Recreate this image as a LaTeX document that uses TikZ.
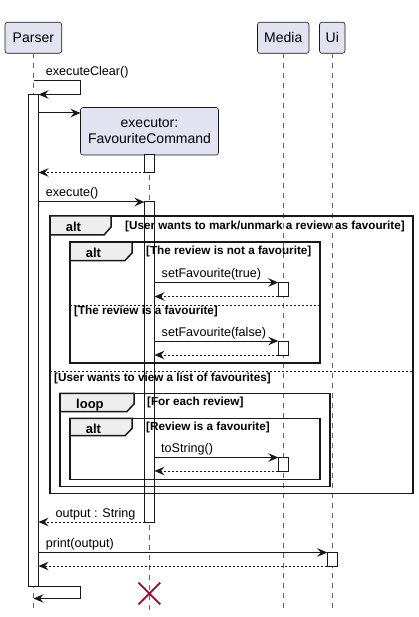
\documentclass[tikz,border=0pt]{standalone}
\usepackage{fontspec}
\setmainfont{Liberation Sans}
\usetikzlibrary{arrows.meta,shapes.misc}
\definecolor{partfill}{HTML}{E2E2F0}
\definecolor{lineclr}{HTML}{181818}
\definecolor{tabfill}{HTML}{EEEEEE}
\definecolor{xred}{HTML}{A80036}
\begin{document}
\begin{tikzpicture}[x=1pt,y=-1pt,
  part/.style={draw=lineclr, fill=partfill, rounded corners=2.5pt, line width=0.6pt,
    font=\fontsize{14}{15.5}\selectfont, inner sep=0pt, outer sep=0pt, align=center},
  lifeline/.style={draw=black!60, line width=0.6pt, dash pattern=on 5pt off 5pt},
  actbar/.style={draw=lineclr, fill=white, line width=1pt, minimum width=10pt, inner sep=0pt, outer sep=0pt},
  msg/.style={draw=lineclr, line width=1pt, -{Stealth[length=10pt,width=8.5pt,inset=3.5pt]}},
  ret/.style={msg, dash pattern=on 2pt off 2pt},
  msglabel/.style={anchor=base west, inner sep=0pt, font=\fontsize{12.6}{15}\selectfont},
  frame/.style={draw=black!90, line width=1.5pt},
  tabtext/.style={anchor=base west, inner sep=0pt, font=\fontsize{13}{15}\selectfont\bfseries},
  guard/.style={anchor=base west, inner sep=0pt, font=\fontsize{11.7}{13}\selectfont\bfseries},
  sep/.style={draw=black!90, line width=1pt, dash pattern=on 2pt off 2pt}
]
\useasboundingbox[fill=white] (0,0) rectangle (418,617);

% participants
\node[part, minimum width=56.7pt, minimum height=31pt] (Parser) at (33.35,37.8) {Parser};
\node[part, minimum width=51.5pt, minimum height=31pt] (Media) at (283.25,37.8) {Media};
\node[part, minimum width=25.5pt, minimum height=31pt] (Ui) at (332.25,37.8) {Ui};
\node[part, minimum width=138pt, minimum height=47.5pt] (exec) at (149.5,131.25) {executor:\\FavouriteCommand};

% lifeline ends
\coordinate (pEnd) at (33.35,610);
\coordinate (eEnd) at (149.5,610);
\coordinate (mEnd) at (283.25,610);
\coordinate (uEnd) at (332.25,610);
\draw[lifeline] (Parser.south) -- (pEnd);
\draw[lifeline] (exec.south) -- (eEnd);
\draw[lifeline] (Media.south) -- (mEnd);
\draw[lifeline] (Ui.south) -- (uEnd);

% activation bars
\node[actbar, minimum height=491.5pt] (pbar) at (33.5,340.25) {};
\node[actbar, minimum height=17.5pt] (ebar1) at (149.5,163.75) {};
\node[actbar, minimum height=320pt] (ebar2) at (149.5,362) {};
\node[actbar, minimum height=14pt] (mbar1) at (283.3,289.5) {};
\node[actbar, minimum height=14pt] (mbar2) at (283.3,348) {};
\node[actbar, minimum height=13.5pt] (mbar3) at (283.3,464.25) {};
\node[actbar, minimum height=13.5pt] (ubar) at (332.3,559.25) {};

% frames
\draw[frame] (50,216) rectangle (413,493.5);
\draw[frame, fill=tabfill] (50,216) -- (111,216) -- (111,227) -- (104,235) -- (50,235) -- cycle;
\node[tabtext] (t1) at (65.7,232) {alt};
\node[guard] (g1) at (125,229.5) {[User wants to mark/unmark a review as favourite]};

\draw[frame] (70,242) rectangle (320,363);
\draw[frame, fill=tabfill] (70,242) -- (132,242) -- (132,253) -- (125,260.5) -- (70,260.5) -- cycle;
\node[tabtext] (t2) at (85.7,257.5) {alt};
\node[guard] (g2) at (146,254.5) {[The review is not a favourite]};
\draw[sep] (70,305) -- (320,305);
\node[guard] (g3) at (74,314.5) {[The review is a favourite]};

\draw[sep] (50,371) -- (413,371);
\node[guard] (g4) at (54,381) {[User wants to view a list of favourites]};

\draw[frame] (60,393.3) rectangle (330,486.7);
\draw[frame, fill=tabfill] (60,393.3) -- (134,393.3) -- (134,404) -- (127,411.5) -- (60,411.5) -- cycle;
\node[tabtext] (t3) at (76,408.5) {loop};
\node[guard] (g5) at (147,405.5) {[For each review]};

\draw[frame] (70,418.3) rectangle (320,479.3);
\draw[frame, fill=tabfill] (70,418.3) -- (132,418.3) -- (132,428.5) -- (125,435.7) -- (70,435.7) -- cycle;
\node[tabtext] (t4) at (85.7,433.5) {alt};
\node[guard] (g6) at (146,430.5) {[Review is a favourite]};

% messages
\coordinate (sc1a) at (33.5,81);
\coordinate (sc1b) at (80.5,94.5);
\draw[msg] (sc1a) -| (sc1b) -- (pbar.north east);
\node[msglabel] (l1) at (45.7,76) {executeClear()};

\coordinate (createY) at (0,113);
\draw[msg] (pbar.east |- createY) -- (exec.west |- createY);

\draw[ret] (ebar1.south west) -- (pbar.east |- ebar1.south);

\draw[msg] (pbar.east |- ebar2.north) -- (ebar2.north west);
\node[msglabel] (l2) at (45.7,197) {execute()};

\draw[msg] (ebar2.east |- mbar1.north) -- (mbar1.north west);
\node[msglabel] (l3) at (161.5,277.5) {setFavourite(true)};
\draw[ret] (mbar1.south west) -- (ebar2.east |- mbar1.south);

\draw[msg] (ebar2.east |- mbar2.north) -- (mbar2.north west);
\node[msglabel] (l4) at (161.5,336) {setFavourite(false)};
\draw[ret] (mbar2.south west) -- (ebar2.east |- mbar2.south);

\draw[msg] (ebar2.east |- mbar3.north) -- (mbar3.north west);
\node[msglabel] (l5) at (161,452.5) {toString()};
\draw[ret] (mbar3.south west) -- (ebar2.east |- mbar3.south);

\draw[ret] (ebar2.south west) -- (pbar.east |- ebar2.south);
\node[msglabel] (l6) at (55.5,517) {output : String};

\draw[msg] (pbar.east |- ubar.north) -- (ubar.north west);
\node[msglabel] (l7) at (45.7,547.5) {print(output)};
\draw[ret] (ubar.south west) -- (pbar.east |- ubar.south);

\coordinate (sc2b) at (80.5,598.5);
\coordinate (sc2e) at (33.5,598.5);
\draw[msg] (pbar.south east) -| (sc2b) -- (sc2e);

% destroy
\node[cross out, draw=xred, line width=1.8pt, minimum size=20pt, inner sep=0pt] (destroy) at (149.4,593.5) {};
\end{tikzpicture}
\end{document}
